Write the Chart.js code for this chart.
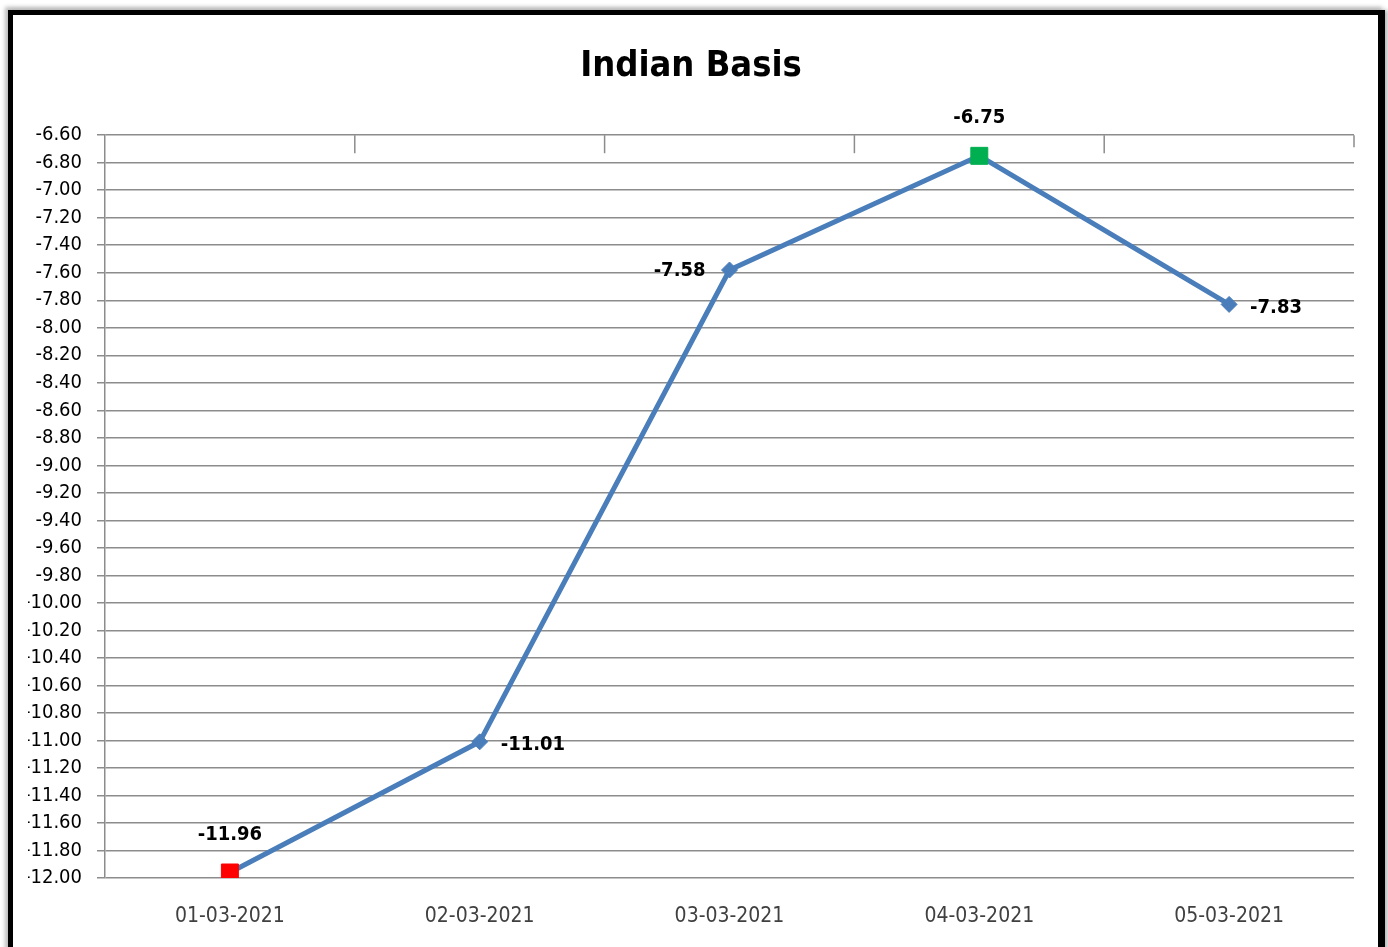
<!DOCTYPE html>
<html>
<head>
<meta charset="utf-8">
<script src="https://cdn.jsdelivr.net/npm/chart.js@4/dist/chart.umd.min.js"></script>
<style>
  body { margin: 0; background: #fff; }
  #frame {
    position: absolute; left: 8px; top: 10px; width: 1365px; height: 960px;
    border-left: 5px solid #000; border-top: 5px solid #000; border-right: 7px solid #000;
    box-shadow: -3px -3px 4px #bbb, 3px 0 4px #bbb;
  }
  #wrap { position: absolute; left: 0; top: 0; width: 1388px; height: 947px; }
</style>
</head>
<body>
<div id="frame"></div>
<div id="wrap"><canvas id="chart"></canvas></div>
<script>
const dates = ["01-03-2021", "02-03-2021", "03-03-2021", "04-03-2021", "05-03-2021"];
const basis = [-11.96, -11.01, -7.58, -6.75, -7.83];
const yMin = -12.0;
const yMax = -6.6;
const yStep = 0.2;

const NARROW = "'Liberation Sans Narrow', 'DejaVu Sans Condensed', 'Arial Narrow', sans-serif";
const lineBlue = "#4a7ebb";
const gridGray = "#8c8c8c";

// where each value label sits relative to its point
const labelSide = ["above", "right", "left", "above", "right"];

const valueLabels = {
  id: "valueLabels",
  afterDatasetsDraw(chart) {
    const ctx = chart.ctx;
    const meta = chart.getDatasetMeta(0);
    ctx.save();
    ctx.font = "bold 20px " + NARROW;
    ctx.fillStyle = "#000";
    meta.data.forEach((pt, i) => {
      const txt = basis[i].toFixed(2);
      const side = labelSide[i];
      if (side === "above") {
        ctx.textAlign = "center"; ctx.textBaseline = "middle";
        ctx.fillText(txt, pt.x, pt.y - 38);
      } else if (side === "right") {
        ctx.textAlign = "left"; ctx.textBaseline = "middle";
        ctx.fillText(txt, pt.x + 21, pt.y + 3);
      } else {
        ctx.textAlign = "right"; ctx.textBaseline = "middle";
        ctx.fillText(txt, pt.x - 24, pt.y + 1);
      }
    });
    ctx.restore();
  }
};

// small category tick marks hanging from the top line (Excel style)
const topTicks = {
  id: "topTicks",
  beforeDatasetsDraw(chart) {
    const ctx = chart.ctx;
    const x = chart.scales.x;
    const top = chart.chartArea.top;
    ctx.save();
    ctx.strokeStyle = gridGray;
    ctx.lineWidth = 1.5;
    for (let i = 1; i <= dates.length; i++) {
      const px = x.getPixelForValue(i - 0.5);
      ctx.beginPath();
      ctx.moveTo(px, top);
      ctx.lineTo(px, top + (i === dates.length ? 12 : 18));
      ctx.stroke();
    }
    ctx.restore();
  }
};

new Chart(document.getElementById("chart"), {
  type: "line",
  data: {
    labels: dates,
    datasets: [{
      data: basis,
      borderColor: lineBlue,
      borderWidth: 5,
      pointStyle: ["rect", "rectRot", "rectRot", "rect", "rectRot"],
      pointRadius: [12, 8, 8, 12, 8],
      pointBackgroundColor: ["#ff0000", lineBlue, lineBlue, "#00b050", lineBlue],
      pointBorderColor: ["#ff0000", lineBlue, lineBlue, "#00b050", lineBlue],
      pointBorderWidth: 1,
      tension: 0
    }]
  },
  options: {
    responsive: true,
    maintainAspectRatio: false,
    animation: false,
    layout: { padding: { left: 28, right: 34, top: 0, bottom: 0 } },
    plugins: {
      legend: { display: false },
      tooltip: { enabled: false },
      title: {
        display: true,
        text: "Indian Basis",
        color: "#000",
        font: { family: NARROW, size: 36, weight: "bold" },
        padding: { top: 45, bottom: 47 }
      }
    },
    scales: {
      x: {
        offset: true,
        grid: { display: false },
        border: { display: false },
        ticks: {
          color: "#404040",
          font: { family: NARROW, size: 21 },
          padding: 18,
          maxRotation: 0,
          autoSkip: false
        },
        afterFit(s) { s.height = 69; }
      },
      y: {
        min: yMin,
        max: yMax,
        grid: { color: gridGray, lineWidth: 1.5, tickLength: 8 },
        border: { color: gridGray, width: 1.5 },
        ticks: {
          stepSize: yStep,
          autoSkip: false,
          color: "#000",
          font: { family: NARROW, size: 20 },
          padding: 15,
          callback: v => Number(v).toFixed(2)
        },
        afterFit(s) { s.width = 77; }
      }
    }
  },
  plugins: [valueLabels, topTicks]
});
</script>
</body>
</html>
